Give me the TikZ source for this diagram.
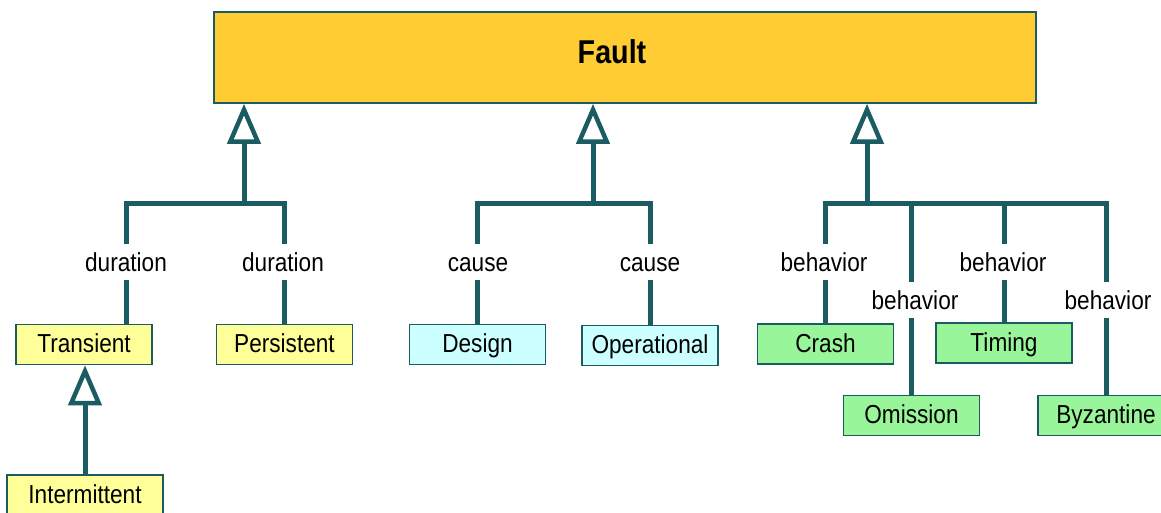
\documentclass[tikz,border=0pt]{standalone}
\usepackage{fontspec}
\setmainfont{Liberation Sans}[FakeStretch=0.87]
\usetikzlibrary{arrows.meta}
\definecolor{linkteal}{RGB}{26,92,98}
\definecolor{faultfill}{RGB}{255,204,51}
\definecolor{durfill}{RGB}{255,255,153}
\definecolor{causefill}{RGB}{204,255,255}
\definecolor{behfill}{RGB}{153,245,153}
\begin{document}
\begin{tikzpicture}[x=1pt,y=-1pt,
  conn/.style={draw=linkteal, line width=5pt, line join=miter},
  gen/.style={conn, -{Triangle[open, length=40pt, width=33pt, line width=4.5pt]}},
  box/.style={draw=linkteal, line width=1.6pt, minimum width=136pt, minimum height=40pt,
    inner sep=0pt, font=\fontsize{26}{30}\selectfont, text height=19pt, text depth=3pt},
  lbl/.style={fill=white, inner xsep=1pt, inner ysep=8.5pt,
    font=\fontsize{26}{30}\selectfont, text height=19pt, text depth=0pt}
]
\clip (0,0) rectangle (1161,512);

% root class
\node[draw=linkteal, line width=1.6pt, fill=faultfill, minimum width=822pt, minimum height=91pt, inner sep=0pt]
  (fault) at (625,57.5) {};
\node[font=\fontsize{33}{36}\selectfont\bfseries] (faulttext) at (612,52) {Fault};

% sub-classes
\node[box, fill=durfill] (transient) at (84,344.5) {Transient};
\node[box, fill=durfill] (persistent) at (284.5,344.5) {Persistent};
\node[box, fill=durfill, minimum width=156pt] (intermittent) at (85,495) {Intermittent};
\node[box, fill=causefill] (design) at (477.5,344.5) {Design};
\node[box, fill=causefill] (operational) at (650,345.5) {Operational};
\node[box, fill=behfill] (crash) at (825.5,344) {Crash};
\node[box, fill=behfill] (timing) at (1004,343) {Timing};
\node[box, fill=behfill] (omission) at (911.5,415.5) {Omission};
\node[box, fill=behfill] (byzantine) at (1106,415.5) {Byzantine};

% junctions of the generalisation trees
\coordinate (j1) at (244,203);
\coordinate (j2) at (593,203);
\coordinate (j3) at (867,203);
\coordinate (trtop) at (126,325);

% duration
\draw[conn] (trtop) |- (j1) -| (persistent.north);
\draw[gen] (j1) -- (j1 |- fault.south);
% cause
\draw[conn] (design.north) |- (j2) -| (operational.north);
\draw[gen] (j2) -- (j2 |- fault.south);
% behavior
\draw[conn] (crash.north) |- (j3) -| (byzantine.north);
\draw[conn] (omission.north) -- (omission.north |- j3);
\draw[conn] (timing.north) -- (timing.north |- j3);
\draw[gen] (j3) -- (j3 |- fault.south);
% transient specialisation
\draw[gen] (intermittent.north) -- (intermittent.north |- transient.south);

% role labels
\node[lbl] (l1) at (126,262) {duration};
\node[lbl] (l2) at (283,262) {duration};
\node[lbl] (l3) at (478,262) {cause};
\node[lbl] (l4) at (650,262) {cause};
\node[lbl] (l5) at (824,262) {behavior};
\node[lbl] (l6) at (915,300) {behavior};
\node[lbl] (l7) at (1003,262) {behavior};
\node[lbl] (l8) at (1108,300) {behavior};
\end{tikzpicture}
\end{document}
